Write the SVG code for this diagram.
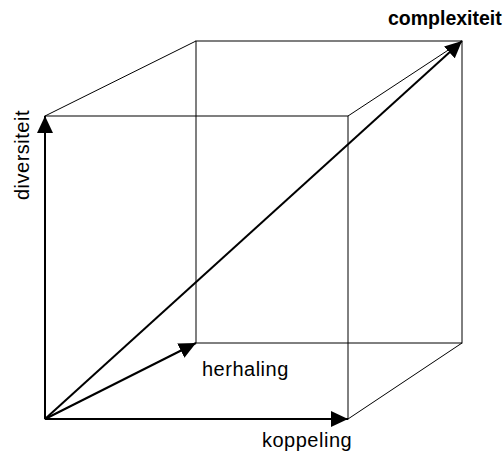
<svg xmlns="http://www.w3.org/2000/svg" width="504" height="454" viewBox="0 0 504 454">
<style>
.edge{stroke:#000;stroke-width:1;fill:none}
.axis{stroke:#000;stroke-width:2;fill:none;marker-end:url(#ah)}
text{font-family:"Liberation Sans",Arial,sans-serif;font-size:20px;letter-spacing:0.5px;fill:#000}
</style>
<defs>
<marker id="ah" markerUnits="userSpaceOnUse" markerWidth="18" markerHeight="16" refX="17" refY="8" orient="auto">
<path d="M0,0 L17,8 L0,16 z" fill="#000"/>
</marker>
</defs>
<rect width="504" height="454" fill="#fff"/>
<g id="cube">
<rect class="edge" x="45" y="116" width="303" height="303"/>
<rect class="edge" x="196" y="41" width="266" height="302"/>
<line class="edge" x1="45" y1="116" x2="196" y2="41"/>
<line class="edge" x1="348" y1="116" x2="462" y2="41"/>
<line class="edge" x1="348" y1="419" x2="462" y2="343"/>
<line class="edge" x1="45" y1="419" x2="196" y2="343"/>
</g>
<g id="connectors">
<line class="axis" x1="45" y1="419" x2="45" y2="116"/>
<line class="axis" x1="45" y1="419" x2="348" y2="419"/>
<line class="axis" x1="45" y1="419" x2="196" y2="343"/>
<line class="axis" x1="45" y1="419" x2="462" y2="41"/>
</g>
<g id="labels">
<text id="diversiteit" transform="translate(29,200) rotate(-90)">diversiteit</text>
<text id="koppeling" x="262" y="447">koppeling</text>
<text id="herhaling" x="202" y="376">herhaling</text>
<text id="complexiteit" x="388" y="25" font-weight="bold" style="font-size:19.5px;letter-spacing:0">complexiteit</text>
</g>
</svg>
